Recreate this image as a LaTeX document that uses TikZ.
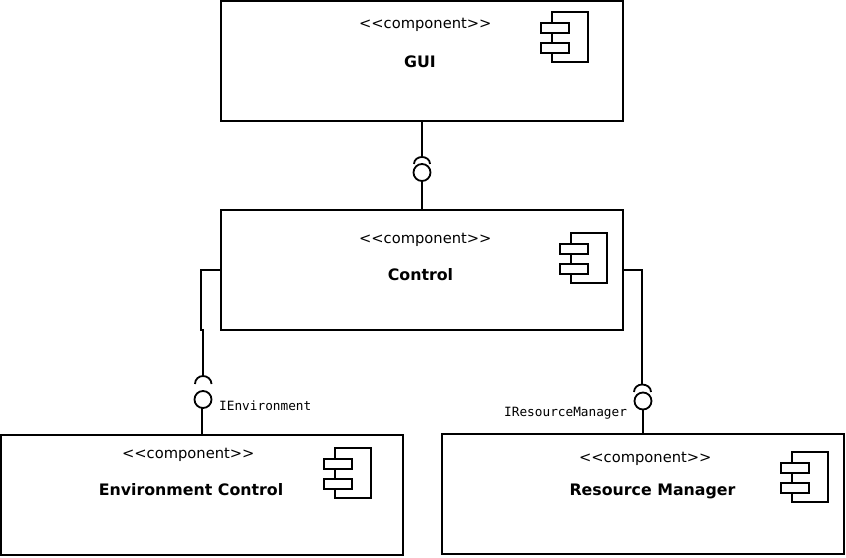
\documentclass[tikz,border=0pt]{standalone}
\usepackage{fontspec}
\setmainfont{DejaVu Sans}
\newfontfamily\lblmono{DejaVu Sans Mono}
\tikzset{
  x=1pt,y=-1pt,
  line/.style={draw=black,line width=1.8pt},
  comp/.style={line,fill=white,rectangle,minimum width=402pt,minimum height=120pt,inner sep=0pt,outer sep=0pt,anchor=north west},
  stereo/.style={font=\fontsize{14.7}{16}\selectfont,inner sep=0pt},
  cname/.style={font=\fontsize{15.8}{18}\selectfont\bfseries,inner sep=0pt},
  ilabel/.style={font=\fontsize{12.75}{14}\selectfont\lblmono,inner sep=0pt,anchor=west},
  ball/.style={line,fill=white,circle,minimum size=17pt,inner sep=0pt,outer sep=0pt},
  icon/.pic={
    \draw[line,line width=1.7pt] (0,0) rectangle (36,50);
    \draw[line,line width=1.7pt,fill=white] (-11,11) rectangle (17,21);
    \draw[line,line width=1.7pt,fill=white] (-11,31) rectangle (17,41);
  }
}
\begin{document}
\begin{tikzpicture}
\useasboundingbox (0,0) rectangle (846,557);
\fill[white] (0,0) rectangle (846,557);
% connector anchors
\node[ball] (b1) at (422,172.5) {};
\node[ball] (b2) at (203,399.5) {};
\node[ball] (b3) at (643,401) {};
\coordinate (s1) at (422,157);
\coordinate (s2) at (203,376);
\coordinate (s3) at (642,384.5);
% components
\node[comp] (gui) at (221,1) {};
\node[comp] (control) at (221,210) {};
\node[comp] (env) at (1,435) {};
\node[comp] (res) at (442,434) {};
% connectors
\draw[line] (gui.south -| s1) -- (s1);
\draw[line] (b1.south) -- (control.north -| b1);
\draw[line] (control.west |- 0,270) -- (201,270) -- (201,330) -- (203,330) -- (s2);
\draw[line] (202,408) -- (202,435);
\draw[line] (control.east |- 0,270) -- (642,270) -- (s3);
\draw[line] (b3.south) -- (res.north -| b3);
% sockets
\draw[line] (414,164) .. controls (414,159.5) and (418,157) .. (s1) .. controls (426,157) and (430,159.5) .. (430,164);
\draw[line] (195,384) .. controls (195,379) and (199,376) .. (s2) .. controls (207,376) and (211.5,379) .. (211.5,384);
\draw[line] (634,392) .. controls (634,387.5) and (638,384.5) .. (s3) .. controls (647,384.5) and (651,387.5) .. (651,392);
% icons
\pic at (552,12) {icon};
\pic at (571,233) {icon};
\pic at (335,448) {icon};
\pic at (792,452) {icon};
% text
\node[stereo] (t1) at (425.3,24.8) {<{}<component>{}>};
\node[cname] (n1) at (420,61.8) {GUI};
\node[stereo] (t2) at (425.3,239.8) {<{}<component>{}>};
\node[cname] (n2) at (420.5,275) {Control};
\node[stereo] (t3) at (188.3,454.8) {<{}<component>{}>};
\node[cname] (n3) at (191,489.8) {Environment Control};
\node[stereo] (t4) at (645.3,458.8) {<{}<component>{}>};
\node[cname] (n4) at (652.5,491.8) {Resource Manager};
\node[ilabel] (l1) at (219,405.8) {IEnvironment};
\node[ilabel] (l2) at (504,413.3) {IResourceManager};
\end{tikzpicture}
\end{document}
